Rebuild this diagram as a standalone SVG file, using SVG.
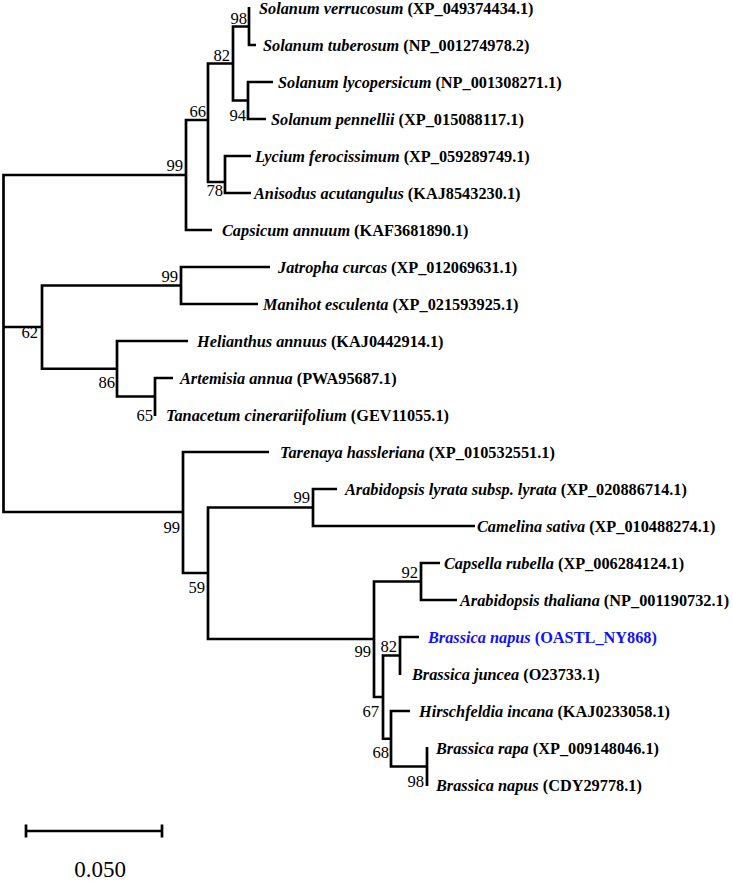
<svg xmlns="http://www.w3.org/2000/svg" width="733" height="881" viewBox="0 0 733 881">
  <style>
    .edge { fill: none; stroke: #000; stroke-width: 2.7; stroke-linejoin: miter; stroke-linecap: butt; }
    .leaf { font-family: "Liberation Serif", "Times New Roman", serif; font-size: 16.3px; font-weight: bold; fill: #000; }
    .leaf .sp { font-style: italic; }
    .leaf.hl { fill: #1010ff; }
    .bs { font-family: "Liberation Serif", "Times New Roman", serif; font-size: 16.6px; fill: #000; text-anchor: end; }
    .scale { font-family: "Liberation Serif", "Times New Roman", serif; font-size: 23px; fill: #000; text-anchor: middle; }
  </style>
  <rect width="733" height="881" fill="#fff"/>

  <!-- branches: each path is one internal node's bracket -->
  <g id="connectors">
    <path class="edge" d="M186 175 H3.5 V512 H183"/>
    <path class="edge" d="M3.5 327 H42"/>
    <path class="edge" d="M208 120 H186 V230 H212"/>
    <path class="edge" d="M233 63.5 H208 V182 H225"/>
    <path class="edge" d="M249 26.5 H233 V100.5 H248"/>
    <path class="edge" d="M249 7 V45 H256"/>
    <path class="edge" d="M273 82 H248 V119 H266"/>
    <path class="edge" d="M251 156 H225 V193 H251"/>
    <path class="edge" d="M181 285.5 H42 V368.75 H117"/>
    <path class="edge" d="M270 267 H181 V304 H258"/>
    <path class="edge" d="M188 341 H117 V396.5 H155"/>
    <path class="edge" d="M173 378 H155 V416"/>
    <path class="edge" d="M269 452 H183 V573 H208"/>
    <path class="edge" d="M313 507.5 H208 V639 H374"/>
    <path class="edge" d="M337 489 H313 V526 H475"/>
    <path class="edge" d="M421 581.5 H374 V697 H383"/>
    <path class="edge" d="M440 563 H421 V600 H457"/>
    <path class="edge" d="M400 655.5 H383 V738.75 H391"/>
    <path class="edge" d="M419 637 H400 V675"/>
    <path class="edge" d="M410 711 H391 V766.5 H427"/>
    <path class="edge" d="M427 747 V786"/>
  </g>

  <!-- internal nodes with bootstrap support -->
  <g id="node-sol-verr-tub"><text class="bs" x="247" y="24">98</text></g>
  <g id="node-solanum"><text class="bs" x="230" y="61">82</text></g>
  <g id="node-lyc-pen"><text class="bs" x="246" y="121">94</text></g>
  <g id="node-solanoideae"><text class="bs" x="206" y="117">66</text></g>
  <g id="node-solanaceae"><text class="bs" x="183" y="171">99</text></g>
  <g id="node-lyc-ani"><text class="bs" x="223" y="196">78</text></g>
  <g id="node-euphorbiaceae"><text class="bs" x="178" y="282">99</text></g>
  <g id="node-eu-aster"><text class="bs" x="38" y="338">62</text></g>
  <g id="node-asteraceae"><text class="bs" x="115" y="388">86</text></g>
  <g id="node-art-tan"><text class="bs" x="153" y="421">65</text></g>
  <g id="node-brassicales"><text class="bs" x="180" y="533">99</text></g>
  <g id="node-brassicaceae"><text class="bs" x="205" y="593">59</text></g>
  <g id="node-ara-cam"><text class="bs" x="310" y="503">99</text></g>
  <g id="node-cap-ara"><text class="bs" x="418" y="578">92</text></g>
  <g id="node-brassiceae"><text class="bs" x="371" y="657">99</text></g>
  <g id="node-napus-juncea"><text class="bs" x="397" y="652">82</text></g>
  <g id="node-brassica"><text class="bs" x="379" y="717">67</text></g>
  <g id="node-hir-bra"><text class="bs" x="389" y="758">68</text></g>
  <g id="node-rapa-napus"><text class="bs" x="424" y="787">98</text></g>

  <!-- leaves -->
  <g id="leaf-s-verrucosum"><text class="leaf" x="259" y="13.5"><tspan class="sp">Solanum verrucosum</tspan> (XP_049374434.1)</text></g>
  <g id="leaf-s-tuberosum"><text class="leaf" x="263" y="50.5"><tspan class="sp">Solanum tuberosum</tspan> (NP_001274978.2)</text></g>
  <g id="leaf-s-lycopersicum"><text class="leaf" x="278" y="87.5"><tspan class="sp">Solanum lycopersicum</tspan> (NP_001308271.1)</text></g>
  <g id="leaf-s-pennellii"><text class="leaf" x="271" y="124.5"><tspan class="sp">Solanum pennellii</tspan> (XP_015088117.1)</text></g>
  <g id="leaf-l-ferocissimum"><text class="leaf" x="255" y="161.5"><tspan class="sp">Lycium ferocissimum</tspan> (XP_059289749.1)</text></g>
  <g id="leaf-a-acutangulus"><text class="leaf" x="254" y="198.5"><tspan class="sp">Anisodus acutangulus</tspan> (KAJ8543230.1)</text></g>
  <g id="leaf-c-annuum"><text class="leaf" x="222" y="235.5"><tspan class="sp">Capsicum annuum</tspan> (KAF3681890.1)</text></g>
  <g id="leaf-j-curcas"><text class="leaf" x="278" y="272.5"><tspan class="sp">Jatropha curcas</tspan> (XP_012069631.1)</text></g>
  <g id="leaf-m-esculenta"><text class="leaf" x="263" y="309.5"><tspan class="sp">Manihot esculenta</tspan> (XP_021593925.1)</text></g>
  <g id="leaf-h-annuus"><text class="leaf" x="197" y="346.5"><tspan class="sp">Helianthus annuus</tspan> (KAJ0442914.1)</text></g>
  <g id="leaf-a-annua"><text class="leaf" x="180" y="383.5"><tspan class="sp">Artemisia annua</tspan> (PWA95687.1)</text></g>
  <g id="leaf-t-cinerariifolium"><text class="leaf" x="166" y="420.5"><tspan class="sp">Tanacetum cinerariifolium</tspan> (GEV11055.1)</text></g>
  <g id="leaf-t-hassleriana"><text class="leaf" x="280" y="457.5"><tspan class="sp">Tarenaya hassleriana</tspan> (XP_010532551.1)</text></g>
  <g id="leaf-a-lyrata"><text class="leaf" x="345" y="494.5"><tspan class="sp">Arabidopsis lyrata subsp. lyrata</tspan> (XP_020886714.1)</text></g>
  <g id="leaf-c-sativa"><text class="leaf" x="477" y="531.5"><tspan class="sp">Camelina sativa</tspan> (XP_010488274.1)</text></g>
  <g id="leaf-c-rubella"><text class="leaf" x="444" y="568.5"><tspan class="sp">Capsella rubella</tspan> (XP_006284124.1)</text></g>
  <g id="leaf-a-thaliana"><text class="leaf" x="460" y="605.5"><tspan class="sp">Arabidopsis thaliana</tspan> (NP_001190732.1)</text></g>
  <g id="leaf-b-napus-oastl"><text class="leaf hl" x="428" y="642.5"><tspan class="sp">Brassica napus</tspan> (OASTL_NY868)</text></g>
  <g id="leaf-b-juncea"><text class="leaf" x="412" y="679.5"><tspan class="sp">Brassica juncea</tspan> (O23733.1)</text></g>
  <g id="leaf-h-incana"><text class="leaf" x="419" y="716.5"><tspan class="sp">Hirschfeldia incana</tspan> (KAJ0233058.1)</text></g>
  <g id="leaf-b-rapa"><text class="leaf" x="436" y="753.5"><tspan class="sp">Brassica rapa</tspan> (XP_009148046.1)</text></g>
  <g id="leaf-b-napus-cdy"><text class="leaf" x="436" y="790.5"><tspan class="sp">Brassica napus</tspan> (CDY29778.1)</text></g>

  <!-- scale bar -->
  <g id="scale-bar">
    <path class="edge" d="M26 831 H162 M26 824.5 V837.5 M162 824.5 V837.5"/>
    <text class="scale" x="100" y="877">0.050</text>
  </g>
</svg>
